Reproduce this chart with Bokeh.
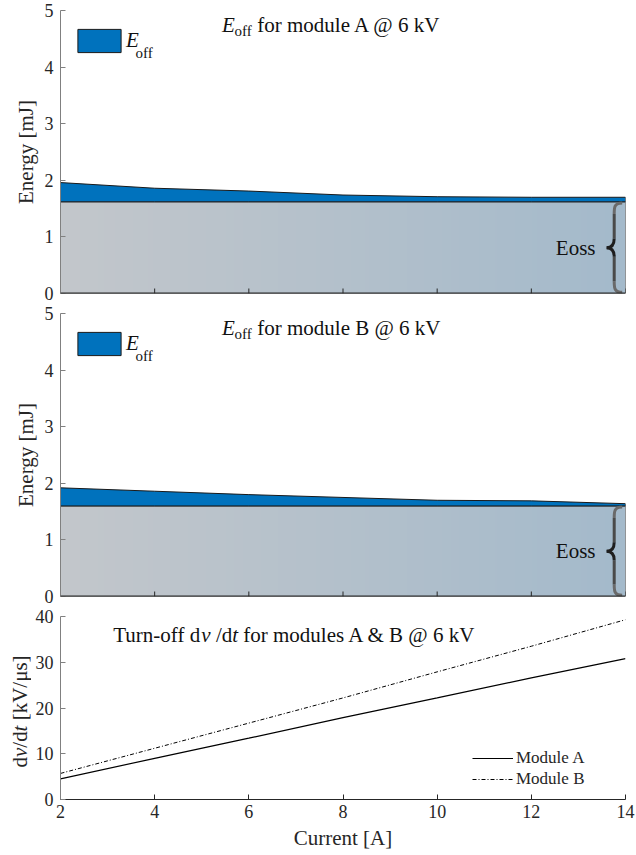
import numpy as np
from bokeh.plotting import figure
from bokeh.layouts import column, row
from bokeh.models import Range1d, FixedTicker, Legend, LegendItem, Label, Span
from bokeh.core.properties import value
from bokeh.embed import file_html
from bokeh.resources import INLINE

# ---------------- data ----------------
current = [2, 4, 6, 8, 10, 12, 14]
eoff_a = [1.96, 1.86, 1.81, 1.74, 1.71, 1.70, 1.70]
eoss_a = 1.62
eoff_b = [1.92, 1.86, 1.80, 1.75, 1.70, 1.69, 1.64]
eoss_b = 1.60
dvdt_a = [4.5, 9.0, 13.4, 17.9, 22.2, 26.6, 30.8]
dvdt_b = [5.7, 11.2, 16.7, 22.2, 27.9, 33.5, 39.3]
energy_ticks = [0, 1, 2, 3, 4, 5]
dvdt_ticks = [0, 10, 20, 30, 40]
current_ticks = [2, 4, 6, 8, 10, 12, 14]

FONT = "Liberation Serif"
BLUE = "#0072BD"
TXT = "#262626"
TITLE = "#111111"
FW = 565
BL, BR = 60, 10
SP = 5.25  # width of a space at 21px (Times metrics)

# horizontal grey gradient for the Eoss area
ncol = 256
t = np.linspace(0.0, 1.0, ncol)
c_left = np.array([195, 199, 203])
c_right = np.array([164, 186, 203])
grad = np.zeros((2, ncol), dtype=np.uint32)
view = grad.view(dtype=np.uint8).reshape((2, ncol, 4))
for k in range(3):
    view[:, :, k] = (c_left[k] + (c_right[k] - c_left[k]) * t).astype(np.uint8)
view[:, :, 3] = 255


def style_y(p, ticks):
    p.grid.visible = False
    p.outline_line_color = None
    yax = p.yaxis[0]
    yax.ticker = FixedTicker(ticks=ticks)
    yax.axis_line_color = "#808080"
    yax.major_tick_line_color = "#808080"
    yax.major_tick_in = 5
    yax.major_tick_out = 0
    yax.minor_tick_line_color = None
    yax.major_label_text_font = FONT
    yax.major_label_text_font_size = "18px"
    yax.major_label_text_color = TXT
    yax.major_label_standoff = 7
    yax.axis_label_text_font = FONT
    yax.axis_label_text_font_size = "21px"
    yax.axis_label_text_font_style = "normal"
    yax.axis_label_text_color = TXT
    yax.axis_label_standoff = 4


def energy_panel(eoff, eoss, module, fh):
    p = figure(frame_width=FW, frame_height=fh,
               x_range=Range1d(current[0], current[-1]),
               y_range=Range1d(energy_ticks[0], energy_ticks[-1]),
               output_backend="svg", toolbar_location=None,
               x_axis_location=None,
               min_border_left=BL, min_border_right=BR,
               min_border_top=10, min_border_bottom=10,
               background_fill_color="white", border_fill_color="white")
    style_y(p, energy_ticks)
    p.yaxis[0].axis_label = "Energy [mJ]"
    ppu = fh / (energy_ticks[-1] - energy_ticks[0])

    # Eoss grey gradient area
    p.image_rgba(image=[grad], x=current[0], y=0,
                 dw=current[-1] - current[0], dh=eoss)
    p.quad(left=[current[0]], right=[current[-1]], bottom=[0], top=[eoss],
           fill_color=None, line_color="#3c3c3c", line_width=1)
    # Eoff blue band (outlined patch)
    band = p.patch(x=current + current[::-1],
                   y=eoff + [eoss] * len(current),
                   fill_color=BLUE, line_color="#1a1a1a", line_width=1)

    # bottom axis line + inward ticks
    p.add_layout(Span(location=0, dimension="width", line_color=TXT,
                      line_width=2))
    p.segment(x0=current_ticks, y0=0, x1=current_ticks, y1=5 / ppu,
              line_color=TXT, line_width=1)

    # brace for Eoss
    xr = current[-1] - 0.07
    xm = current[-1] - 0.24
    xl = current[-1] - 0.40
    top, bot, mid, h = eoss - 0.02, 0.02, eoss / 2, eoss
    p.bezier(x0=[xr, xr], y0=[top, bot], x1=[xm, xm],
             y1=[top - 0.12 * h, bot + 0.12 * h],
             cx0=[xm, xm], cy0=[top, bot], cx1=[xm, xm],
             cy1=[top - 0.05 * h, bot + 0.05 * h],
             line_color="#6a6a6a", line_width=3)
    p.segment(x0=[xm, xm], y0=[top - 0.12 * h, bot + 0.12 * h],
              x1=[xm, xm], y1=[mid + 0.1 * h, mid - 0.1 * h],
              line_color="#4a4a4a", line_width=3)
    p.bezier(x0=[xm, xm], y0=[mid + 0.1 * h, mid - 0.1 * h], x1=[xl, xl],
             y1=[mid, mid], cx0=[xm, xm],
             cy0=[mid + 0.03 * h, mid - 0.03 * h],
             cx1=[xm - 0.05, xm - 0.05], cy1=[mid, mid],
             line_color="#1e1e1e", line_width=3)
    p.add_layout(Label(x=current[-1], y=mid, x_offset=-30, text="Eoss",
                       text_align="right", text_baseline="alphabetic",
                       text_font=FONT, text_font_size="21px",
                       text_color=TITLE))

    # legend (swatch + italic E) and subscript
    # (Bokeh insets area swatches by 10% on each side)
    leg = Legend(items=[LegendItem(label=value("E"), renderers=[band])],
                 location=(12, fh - 16 - 29), border_line_color=None,
                 background_fill_alpha=0, padding=0, margin=0, spacing=0,
                 glyph_width=54, glyph_height=29, label_standoff=0,
                 label_height=29, label_text_font=FONT,
                 label_text_font_size="21px", label_text_font_style="italic",
                 label_text_color=TITLE)
    p.add_layout(leg)
    p.add_layout(Label(x=current[0], y=energy_ticks[-1] - 42 / ppu,
                       x_offset=75, text="off", text_font=FONT,
                       text_font_size="15px", text_color=TITLE,
                       text_baseline="alphabetic"))

    # title runs
    ty = energy_ticks[-1] - 14 / ppu
    tx = 5.43
    p.add_layout(Label(x=tx, y=ty, text="E", text_font=FONT,
                       text_font_style="italic", text_font_size="21px",
                       text_color=TITLE, text_baseline="alphabetic"))
    p.add_layout(Label(x=tx, y=ty - 6 / ppu, x_offset=12.5, text="off",
                       text_font=FONT, text_font_size="15px",
                       text_color=TITLE, text_baseline="alphabetic"))
    p.add_layout(Label(x=tx, y=ty, x_offset=30 + SP,
                       text="for module %s @ 6 kV" % module, text_font=FONT,
                       text_font_size="21px", text_color=TITLE,
                       text_baseline="alphabetic"))
    return p


p1 = energy_panel(eoff_a, eoss_a, "A", 283)
p2 = energy_panel(eoff_b, eoss_b, "B", 283)

# ---------------- dv/dt panel ----------------
fh3 = 183
LABW = 31
p3 = figure(frame_width=FW, frame_height=fh3,
            x_range=Range1d(current[0], current[-1]),
            y_range=Range1d(dvdt_ticks[0], dvdt_ticks[-1]),
            output_backend="svg", toolbar_location=None,
            min_border_left=BL - LABW, min_border_right=BR,
            min_border_top=10, min_border_bottom=55,
            background_fill_color="white", border_fill_color="white")
style_y(p3, dvdt_ticks)
xax = p3.xaxis[0]
xax.ticker = FixedTicker(ticks=current_ticks)
xax.axis_line_color = TXT
xax.major_tick_line_color = TXT
xax.major_tick_in = 5
xax.major_tick_out = 0
xax.minor_tick_line_color = None
xax.major_label_text_font = FONT
xax.major_label_text_font_size = "18px"
xax.major_label_text_color = TXT
xax.major_label_standoff = 5
xax.axis_label = "Current [A]"
xax.axis_label_text_font = FONT
xax.axis_label_text_font_size = "21px"
xax.axis_label_text_font_style = "normal"
xax.axis_label_text_color = TXT
xax.axis_label_standoff = 5

ra = p3.line(current, dvdt_a, line_color="black", line_width=1.2)
rb = p3.line(current, dvdt_b, line_color="black", line_width=1,
             line_dash="4 2 1 2")
leg3 = Legend(items=[LegendItem(label=value("Module A"), renderers=[ra]),
                     LegendItem(label=value("Module B"), renderers=[rb])],
              location=(412, 10), border_line_color=None,
              background_fill_alpha=0, padding=0, margin=0, spacing=1,
              glyph_width=41, glyph_height=20, label_standoff=3,
              label_height=20, label_text_font=FONT,
              label_text_font_size="17px", label_text_color=TXT)
p3.add_layout(leg3)

ppu3 = fh3 / (dvdt_ticks[-1] - dvdt_ticks[0])
t3y = dvdt_ticks[-1] - 18.5 / ppu3
t3x = 3.12
runs = [("Turn-off d", "normal", 0.0), ("v", "italic", 88.1),
        ("/d", "normal", 97.4 + SP), ("t", "italic", 119.0),
        ("for modules A & B @ 6 kV", "normal", 124.8 + SP)]
for txt, sty, off in runs:
    p3.add_layout(Label(x=t3x, y=t3y, x_offset=off, text=txt, text_font=FONT,
                        text_font_style=sty, text_font_size="21px",
                        text_color=TITLE, text_baseline="alphabetic"))

# rotated y-axis label of the dv/dt panel, in a narrow side figure
lab = figure(frame_width=LABW, frame_height=fh3,
             x_range=Range1d(0, LABW), y_range=Range1d(0, fh3),
             output_backend="svg", toolbar_location=None,
             x_axis_location=None, y_axis_location=None,
             min_border_left=0, min_border_right=0,
             min_border_top=10, min_border_bottom=55,
             outline_line_color=None, background_fill_color="white",
             border_fill_color="white")
lab.grid.visible = False
ylab = [("d", "normal", 0.0), ("v", "italic", 10.5), ("/d", "normal", 19.8),
        ("t", "italic", 36.1), ("[kV/μs]", "normal", 41.9 + SP)]
for txt, sty, off in ylab:
    lab.add_layout(Label(x=19, y=32 + off, angle=np.pi / 2, text=txt,
                         text_font=FONT, text_font_style=sty,
                         text_font_size="21px", text_align="left",
                         text_baseline="middle", text_color=TXT))

layout = column(p1, p2, row(lab, p3, spacing=0), spacing=0)
open("out.html", "w").write(file_html(layout, INLINE))
